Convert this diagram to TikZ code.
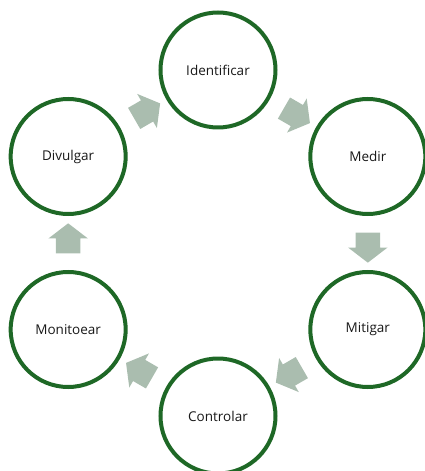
\documentclass[tikz,border=0pt]{standalone}
\usepackage{fontspec}
\setmainfont{Open Sans}
\usetikzlibrary{positioning, calc, shapes.arrows}

\definecolor{ringgreen}{RGB}{30,104,38}
\definecolor{flowgrey}{RGB}{170,189,175}

\begin{document}
\begin{tikzpicture}[
  x=1pt, y=1pt,
  stage/.style = {draw=ringgreen, line width=4pt, circle, fill=white,
                  minimum size=115pt, inner sep=0pt,
                  font=\fontsize{13.5}{16}\selectfont, text=black!90},
  flow/.style  = {single arrow, fill=flowgrey, draw=none, inner sep=0pt,
                  inner ysep=12pt, minimum width=0pt, minimum height=30pt,
                  single arrow head extend=7.5pt, single arrow tip angle=105},
]
  \useasboundingbox (-218,-228) rectangle (207,243);

  \node[stage] (idn) at (90:173)  {Identificar};
  \node[stage] (med) at (30:173)  {Medir};
  \node[stage] (mit) at (-30:173) {Mitigar};
  \node[stage] (con) at (-90:173) {Controlar};
  \node[stage] (mon) at (210:173) {Monitoear};
  \node[stage] (div) at (150:173) {Divulgar};

  \node[flow, rotate=-30]  (f1) at ($(idn)!0.5!(med)$) {};
  \node[flow, rotate=-90]  (f2) at ($(med)!0.5!(mit)$) {};
  \node[flow, rotate=-150] (f3) at ($(mit)!0.5!(con)$) {};
  \node[flow, rotate=150]  (f4) at ($(con)!0.5!(mon)$) {};
  \node[flow, rotate=90]   (f5) at ($(mon)!0.5!(div)$) {};
  \node[flow, rotate=30]   (f6) at ($(div)!0.5!(idn)$) {};
\end{tikzpicture}
\end{document}
